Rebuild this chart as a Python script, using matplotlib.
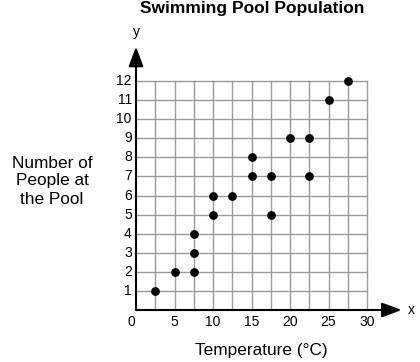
import matplotlib
matplotlib.use("Agg")
import matplotlib.pyplot as plt
import numpy as np

plt.rcParams["font.family"] = ["Liberation Sans", "DejaVu Sans"]

# temperature (°C) and number of people
temps = [2.5, 5, 7.5, 7.5, 7.5, 10, 10, 12.5, 15, 15, 17.5, 17.5, 20, 22.5, 22.5, 25, 27.5]
people = [1, 2, 2, 3, 4, 5, 6, 6, 7, 8, 5, 7, 9, 7, 9, 11, 12]
x_ticks = [5, 10, 15, 20, 25, 30]
y_ticks = list(range(1, 13))

GRID = "#9a9a9a"

fig = plt.figure(figsize=(4.2, 3.62), dpi=100, facecolor="white")
ax = fig.add_axes([136 / 420, 52 / 362, 231 / 420, 229 / 362])
ax.set_xlim(0, 30)
ax.set_ylim(0, 12)
for s in ax.spines.values():
    s.set_visible(False)
ax.set_xticks([])
ax.set_yticks([])

# grid
for gx in np.arange(2.5, 30.01, 2.5):
    ax.plot([gx, gx], [0, 12], color=GRID, lw=1, zorder=1, clip_on=False)
for gy in y_ticks:
    ax.plot([0, 30], [gy, gy], color=GRID, lw=1, zorder=1, clip_on=False)

# axes with arrows
arrow = dict(arrowstyle="-|>,head_length=1.2,head_width=0.45", mutation_scale=10,
             color="black", lw=1.5, shrinkA=0, shrinkB=0)
ax.annotate("", xy=(34.5, 0), xytext=(0, 0), annotation_clip=False, arrowprops=arrow)
ax.annotate("", xy=(0, 13.8), xytext=(0, 0), annotation_clip=False, arrowprops=arrow)
ax.text(35.8, 0, "x", fontsize=10, ha="center", va="center", clip_on=False)
ax.text(0, 14.55, "y", fontsize=10, ha="center", va="center", clip_on=False)

# tick labels
ax.text(-0.65, -0.65, "0", fontsize=10, ha="center", va="center")
for t in x_ticks:
    ax.text(t, -0.65, str(t), fontsize=10, ha="center", va="center")
for t in y_ticks:
    ax.text(-0.55, t, str(t), fontsize=10, ha="right", va="center")

ax.scatter(temps, people, s=28, color="black", zorder=3, clip_on=False)

fig.text(252 / 420, 1 - 8 / 362, "Swimming Pool Population", fontsize=12.5,
         fontweight="bold", ha="center", va="center")
fig.text(261 / 420, 1 - 350 / 362, "Temperature (°C)", fontsize=12.4,
         ha="center", va="center")
fig.text(52 / 420, 1 - 181 / 362, "Number of\nPeople at\nthe Pool", fontsize=12.4,
         ha="center", va="center", linespacing=1.25)

fig.savefig("out.png", dpi=100, facecolor="white")
